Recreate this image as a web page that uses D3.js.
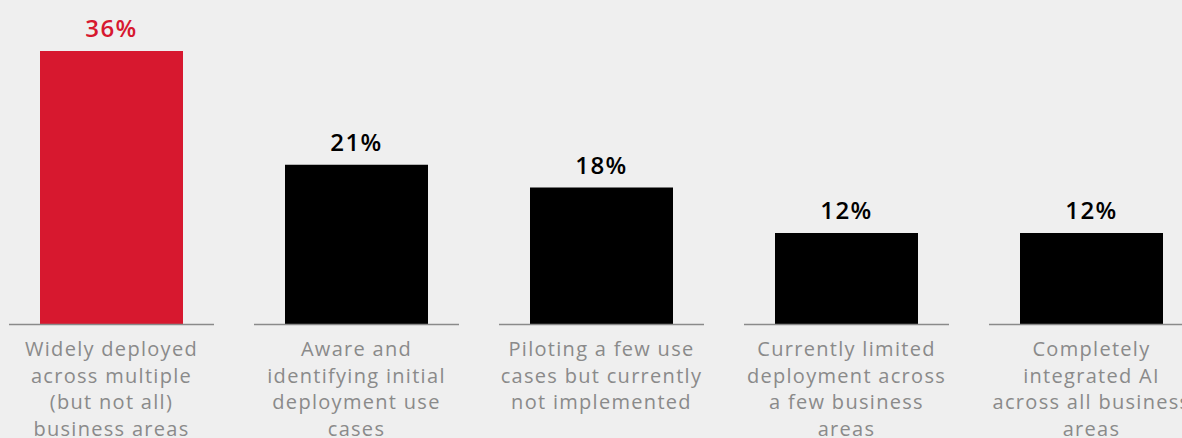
<!DOCTYPE html>
<html>
<head>
<meta charset="utf-8">
<script src="https://cdn.jsdelivr.net/npm/d3@7"></script>
<style>
  body { margin: 0; background: #efefef; }
  svg { display: block; }
</style>
</head>
<body>
<svg width="1182" height="438"></svg>
<script>
// chart data
var categories = [
  ['Widely deployed', 'across multiple', '(but not all)', 'business areas'],
  ['Aware and', 'identifying initial', 'deployment use', 'cases'],
  ['Piloting a few use', 'cases but currently', 'not implemented'],
  ['Currently limited', 'deployment across', 'a few business', 'areas'],
  ['Completely', 'integrated AI', 'across all business', 'areas']
];
var values = [36, 21, 18, 12, 12];
var valueLabels = ['36%', '21%', '18%', '12%', '12%'];
var highlight = [true, false, false, false, false];

var width = 1182;
var height = 438;
var baseline = 324;

var svg = d3.select('svg');

var x = d3.scaleBand()
    .domain(d3.range(values.length))
    .range([-11, 1214])
    .paddingInner(0)
    .paddingOuter(0);

var y = d3.scaleLinear()
    .domain([0, 36])
    .range([baseline, 51]);

var barW = 143;

// bars
svg.selectAll('rect.bar').data(values)
  .enter()
    .append('rect')
    .attr('class', 'bar')
    .attr('x', function(d, i){ return x(i) + x.bandwidth() / 2 - barW / 2; })
    .attr('y', function(d){ return y(d); })
    .attr('width', barW)
    .attr('height', function(d){ return baseline - y(d); })
    .attr('fill', function(d, i){ return highlight[i] ? '#d7182f' : '#000'; });

// baseline segments
svg.selectAll('line.base').data(values)
  .enter()
    .append('line')
    .attr('class', 'base')
    .attr('x1', function(d, i){ return x(i) + x.bandwidth() / 2 - 102.5; })
    .attr('x2', function(d, i){ return x(i) + x.bandwidth() / 2 + 102.5; })
    .attr('y1', baseline + 0.5)
    .attr('y2', baseline + 0.5)
    .attr('stroke', '#8a8a8a')
    .attr('stroke-width', 1.5);

// value labels
svg.selectAll('text.val').data(values)
  .enter()
    .append('text')
    .attr('class', 'val')
    .attr('x', function(d, i){ return x(i) + x.bandwidth() / 2; })
    .attr('y', function(d){ return y(d) - 14; })
    .attr('text-anchor', 'middle')
    .attr('font-family', 'Open Sans, sans-serif')
    .attr('font-weight', 600)
    .attr('font-size', 24)
    .attr('letter-spacing', 1.5)
    .attr('fill', function(d, i){ return highlight[i] ? '#d7182f' : '#000'; })
    .text(function(d, i){ return valueLabels[i]; });

// category labels
var cat = svg.selectAll('text.cat').data(categories)
  .enter()
    .append('text')
    .attr('class', 'cat')
    .attr('text-anchor', 'middle')
    .attr('font-family', 'Open Sans, sans-serif')
    .attr('font-size', 20)
    .attr('letter-spacing', 1.3)
    .attr('fill', '#8a8a8a');

cat.selectAll('tspan').data(function(d, i){ return d.map(function(t){ return {t: t, i: i}; }); })
  .enter()
    .append('tspan')
    .attr('x', function(d){ return x(d.i) + x.bandwidth() / 2; })
    .attr('y', function(d, j){ return 356 + j * 26.5; })
    .text(function(d){ return d.t; });
</script>
</body>
</html>
